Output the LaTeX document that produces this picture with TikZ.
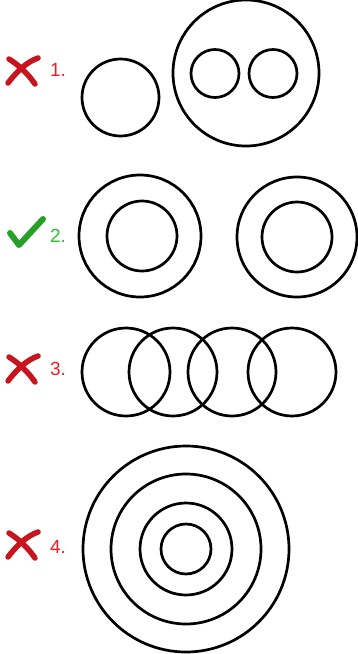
\documentclass[tikz,border=0pt]{standalone}
\usepackage{fontspec}
\setmainfont{Liberation Sans}
\usepackage{tikz}

\definecolor{wrongred}{RGB}{240,30,30}
\definecolor{crossred}{RGB}{200,20,30}
\definecolor{rightgreen}{RGB}{50,190,50}
\definecolor{tickgreen}{RGB}{40,160,40}

\tikzset{
  ring/.style={line width=2.7pt, black},
  cross/.style={line width=5.5pt, crossred, line cap=round},
  tick/.style={line width=6pt, tickgreen, line cap=round, line join=round},
  wrong/.style={text=wrongred, font=\fontsize{19}{19}\selectfont},
  right/.style={text=rightgreen, font=\fontsize{19}{19}\selectfont}
}

\begin{document}
\begin{tikzpicture}[x=1pt,y=-1pt]
    \useasboundingbox (0,0) rectangle (357,654);

    % Row 1: one circle beside a circle holding two circles
    \draw[cross] (9,59) .. controls (20,66) and (28,74) .. (35,84);
    \draw[cross] (8,83) .. controls (18,70) and (27,62) .. (38,58);
    \node[wrong] (lab1) at (58,70) {1.};
    \draw[ring] (120.5,97.5) circle (38.5pt);
    \draw[ring] (246,73) circle (73pt);
    \draw[ring] (215,73.5) circle (24pt);
    \draw[ring] (273,73.5) circle (24pt);

    % Row 2: two pairs of concentric circles
    \draw[tick] (10,233) -- (19,245) -- (43,219);
    \node[right] (lab2) at (58,236) {2.};
    \draw[ring] (140,236) circle (61pt);
    \draw[ring] (142,236) circle (35pt);
    \draw[ring] (297,237) circle (60pt);
    \draw[ring] (297,237) circle (35pt);

    % Row 3: a chain of overlapping circles
    \draw[cross] (9,357) .. controls (20,364) and (28,372) .. (35,382);
    \draw[cross] (8,381) .. controls (18,368) and (27,360) .. (38,356);
    \node[wrong] (lab3) at (58,369) {3.};
    \foreach \cx in {126,173,232,292}
        \draw[ring] (\cx,372) circle (44pt);

    % Row 4: four concentric circles
    \draw[cross] (9,533) .. controls (20,540) and (28,548) .. (35,558);
    \draw[cross] (8,557) .. controls (18,544) and (27,536) .. (38,532);
    \node[wrong] (lab4) at (58,547) {4.};
    \foreach \r in {103,75,46,25}
        \draw[ring] (186,549) circle (\r pt);

\end{tikzpicture}
\end{document}
